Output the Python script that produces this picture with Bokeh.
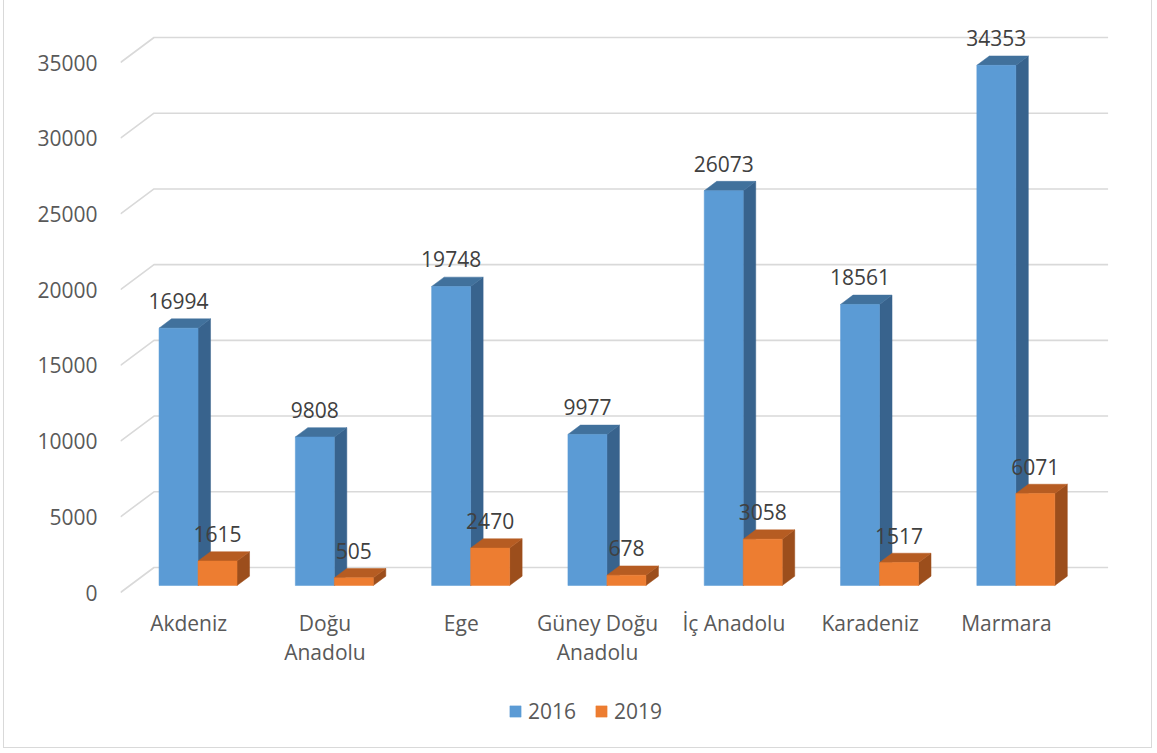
from bokeh.plotting import figure
from bokeh.models import Range1d, FixedTicker, Legend, LegendItem
from bokeh.core.properties import value
from bokeh.embed import file_html
from bokeh.resources import INLINE

# ---------------- data ----------------
regions = ["Akdeniz", "Doğu\nAnadolu", "Ege", "Güney Doğu\nAnadolu",
           "İç Anadolu", "Karadeniz", "Marmara"]
series_names = ["2016", "2019"]
values_2016 = [16994, 9808, 19748, 9977, 26073, 18561, 34353]
values_2019 = [1615, 505, 2470, 678, 3058, 1517, 6071]
y_ticks = [0, 5000, 10000, 15000, 20000, 25000, 30000, 35000]

# ---------------- style / geometry ----------------
FONT = "Open Sans"
BLUE = ("#5B9BD5", "#41719C", "#38638D")     # front, top, side
ORANGE = ("#ED7D31", "#B65C22", "#9C4E1C")
GRID = "#D9D9D9"

PX_PER_CAT = 136.3
PX_PER_VAL = 530.0 / 35000.0
DX = 33.5 / PX_PER_CAT          # depth of the back wall in x units
DY = 25.0 / PX_PER_VAL          # depth of the back wall in value units
F_BAR = 0.28                    # bar front plane (fraction of depth)
F_DEPTH = 0.373                 # bar depth (fraction of depth)
W = 39.0 / PX_PER_CAT           # bar width
LABEL_GAP = 27.0 / PX_PER_VAL
CAT_LABEL_GAP = 16.0 / PX_PER_VAL
n = len(regions)
X_END = n + DX

FRAME_W = 995
p = figure(width=1149, height=748, min_border_left=116, min_border_right=38,
           min_border_top=10, min_border_bottom=0,
           x_range=Range1d(0, FRAME_W / PX_PER_CAT),
           y_range=Range1d(-156 / PX_PER_VAL, 582 / PX_PER_VAL),
           output_backend="svg", toolbar_location=None)
p.outline_line_color = None
p.xgrid.visible = False
p.ygrid.visible = False
p.xaxis.visible = False
p.background_fill_color = "white"
p.border_fill_color = "white"
p.styles = {"margin-left": "3px", "border-left": "1px solid #D9D9D9",
            "border-right": "1px solid #D9D9D9", "border-bottom": "1px solid #D9D9D9"}

# back-wall gridlines
gxs = [[0, DX, X_END] for t in y_ticks]
gys = [[t, t + DY, t + DY] for t in y_ticks]
p.multi_line(gxs, gys, line_color=GRID, line_width=1.6)


def bars(vals, slot):
    fl, fr, fb, ft = [], [], [], []
    sxs, sys_, txs, tys, lx, ly = [], [], [], [], [], []
    ddx, ddy = F_DEPTH * DX, F_DEPTH * DY
    for i, v in enumerate(vals):
        xc = i + 0.5 + F_BAR * DX
        left = xc - W if slot == 0 else xc
        right = left + W
        bottom = F_BAR * DY
        top = v + bottom
        fl.append(left); fr.append(right); fb.append(bottom); ft.append(top)
        sxs.append([right, right + ddx, right + ddx, right])
        sys_.append([bottom, bottom + ddy, top + ddy, top])
        txs.append([left, right, right + ddx, left + ddx])
        tys.append([top, top, top + ddy, top + ddy])
        lx.append((left + right) / 2)
        ly.append(top + LABEL_GAP)
    return fl, fr, fb, ft, sxs, sys_, txs, tys, lx, ly


front_renderers = []
label_data = []
for vals, slot, cols in ((values_2016, 0, BLUE), (values_2019, 1, ORANGE)):
    fl, fr, fb, ft, sxs, sys_, txs, tys, lx, ly = bars(vals, slot)
    p.patches(sxs, sys_, fill_color=cols[2], line_color=cols[2], line_width=0.5)
    p.patches(txs, tys, fill_color=cols[1], line_color=cols[1], line_width=0.5)
    r = p.quad(left=fl, right=fr, bottom=fb, top=ft, fill_color=cols[0],
               line_color=cols[0], line_width=0.5)
    front_renderers.append(r)
    label_data.append((lx, ly, [str(v) for v in vals]))

for lx, ly, txt in label_data:
    p.text(x=lx, y=ly, text=txt, text_font=value(FONT), text_font_size="21px",
           text_color="#404040", text_align="center", text_baseline="middle")

# category labels under the front floor edge
centers = [i + 0.5 for i in range(n)]
p.text(x=centers, y=[-CAT_LABEL_GAP] * n, text=regions, text_font=value(FONT),
       text_font_size="21px", text_color="#595959", text_align="center",
       text_baseline="top", text_line_height=1.05)

# value axis
yax = p.yaxis[0]
yax.ticker = FixedTicker(ticks=y_ticks)
yax.axis_line_color = None
yax.major_tick_line_color = None
yax.minor_tick_line_color = None
yax.major_tick_out = 0
yax.major_tick_in = 0
yax.major_label_standoff = 23
yax.major_label_text_font = FONT
yax.major_label_text_font_size = "21px"
yax.major_label_text_color = "#595959"

legend = Legend(items=[LegendItem(label=series_names[0], renderers=[front_renderers[0]]),
                       LegendItem(label=series_names[1], renderers=[front_renderers[1]])],
                orientation="horizontal", location=(388, 23),
                glyph_width=14, glyph_height=14, label_standoff=6, spacing=18,
                padding=0, margin=0, border_line_color=None,
                background_fill_alpha=0,
                label_text_font=FONT, label_text_font_size="21px",
                label_text_color="#595959")
p.add_layout(legend)

open("out.html", "w", encoding="utf-8").write(file_html(p, INLINE))
